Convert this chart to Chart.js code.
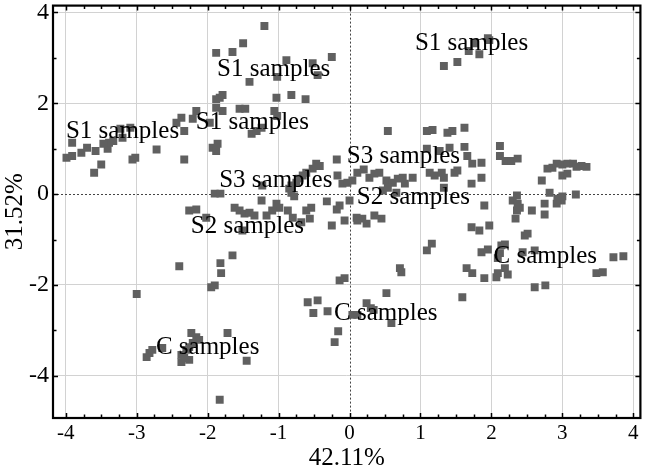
<!DOCTYPE html>
<html>
<head>
<meta charset="utf-8">
<script src="https://cdn.jsdelivr.net/npm/chart.js@4"></script>
<style>
  html, body { margin: 0; padding: 0; background: #fff; }
  #wrap { width: 646px; height: 473px; }
</style>
</head>
<body>
<div id="wrap"><canvas id="pcaChart" width="646" height="473"></canvas></div>
<script>
// score values, grouped by region [PC1, PC2]
const s1Left = [
  [-3.99, 0.80], [-3.91, 0.84], [-3.78, 0.91], [-3.70, 1.02], [-3.58, 0.95], [-3.60, 0.47],
  [-3.50, 0.65], [-3.41, 1.00], [-3.39, 1.13], [-3.47, 1.11], [-3.91, 1.13], [-3.33, 1.17],
  [-3.23, 1.44], [-3.09, 1.46], [-3.20, 1.24], [-3.06, 0.76], [-3.02, 0.80], [-2.72, 0.98],
  [-2.44, 1.57], [-2.37, 1.68], [-2.33, 1.39], [-2.33, 0.76], [-2.21, 1.66], [-2.16, 1.83],
  [-1.93, 1.02], [-1.86, 1.11], [-1.88, 0.95], [-1.97, 1.57], [-1.88, 2.09], [-1.88, 1.90]
];
const s1Top = [
  [-1.20, 3.70], [-1.50, 3.32], [-1.65, 3.13], [-1.88, 3.11], [-0.89, 2.95], [-0.52, 2.88],
  [-0.25, 3.02], [-0.45, 2.62], [-1.02, 2.58], [-1.41, 2.47], [-1.03, 2.12], [-0.82, 2.18],
  [-0.62, 2.09], [-1.83, 2.12], [-1.79, 2.18], [-1.79, 1.83], [-1.55, 1.88], [-1.47, 1.88],
  [-1.06, 1.83], [-1.02, 1.72], [-1.38, 1.33], [-1.31, 1.39], [-1.24, 1.46]
];
const s1Right = [
  [1.33, 2.82], [1.52, 2.91], [1.68, 3.15], [1.83, 3.08], [1.95, 3.43], [1.97, 3.39], [1.76, 3.32]
];
const s3Band = [
  [0.54, 1.39], [1.09, 1.39], [1.17, 1.41], [1.38, 1.35], [1.45, 1.39], [1.62, 1.46],
  [1.09, 1.00], [1.27, 0.95], [1.41, 1.02], [1.62, 1.04], [1.66, 0.84], [1.73, 0.67],
  [1.86, 0.69], [2.12, 1.06], [2.12, 0.84], [2.20, 0.73], [2.28, 0.73], [2.37, 0.78],
  [-0.18, 0.76], [-0.47, 0.67], [-0.42, 0.62], [-0.52, 0.56], [-0.61, 0.47], [-0.66, 0.41],
  [-0.71, 0.34], [-0.75, 0.25], [-0.82, 0.19], [-0.85, 0.12], [-0.17, 0.41], [-0.10, 0.23],
  [-0.03, 0.25], [0.04, 0.30], [0.11, 0.47], [0.20, 0.54], [0.28, 0.36], [0.35, 0.45],
  [0.42, 0.47], [0.52, 0.30], [0.61, 0.25], [0.68, 0.34], [0.75, 0.36], [0.78, 0.23],
  [0.89, 0.36], [1.13, 0.47], [1.20, 0.41], [1.30, 0.47], [1.33, 0.36], [1.48, 0.47],
  [1.52, 0.52], [1.33, 0.14], [1.72, 0.23], [1.86, 0.36], [1.90, -0.25], [0.47, 0.08],
  [0.54, 0.14], [0.66, 0.03], [-1.23, 0.19], [-1.90, 0.01], [-1.82, 0.01]
];
const s2Band = [
  [-1.24, -0.14], [-1.03, -0.21], [-0.99, -0.30], [-0.82, 0.03], [-0.78, -0.05], [-0.61, -0.36],
  [-0.54, -0.30], [-0.32, -0.16], [-0.18, -0.34], [-0.14, -0.25], [0.00, -0.14], [0.10, -0.52],
  [0.11, -0.58], [0.18, -0.54], [0.24, -0.65], [0.35, -0.47], [0.45, -0.54], [-0.25, -0.69],
  [-0.07, -0.58], [-1.62, -0.30], [-1.55, -0.36], [-1.48, -0.43], [-1.41, -0.41], [-1.34, -0.47],
  [-1.17, -0.47], [-1.09, -0.36], [-0.87, -0.36], [-0.80, -0.52], [-0.68, -0.62], [-0.56, -0.54],
  [-1.51, -0.80], [-2.26, -0.36], [-2.16, -0.34], [-2.02, -0.52]
];
const rightGroup = [
  [2.36, -0.03], [2.30, -0.14], [2.37, -0.21], [2.40, -0.30], [2.36, -0.36], [2.34, -0.54],
  [2.57, -0.36], [2.47, -0.91], [2.51, -0.87], [2.71, 0.30], [2.75, -0.21], [2.75, -0.45],
  [2.82, 0.03], [2.79, 0.56], [2.86, 0.58], [2.92, 0.67], [3.00, 0.65], [3.07, 0.67],
  [3.15, 0.67], [3.20, 0.60], [3.27, 0.62], [3.34, 0.60], [3.00, 0.41], [3.07, 0.45],
  [2.93, -0.10], [2.99, -0.14], [3.00, -0.05], [2.92, -0.21], [3.19, -0.01]
];
const cRight = [
  [1.72, -0.73], [1.83, -0.80], [1.97, -0.69], [1.09, -1.24], [1.16, -1.09], [1.86, -1.28],
  [1.95, -1.22], [2.14, -1.13], [2.19, -1.11], [2.12, -1.30], [2.09, -1.41], [2.44, -1.28],
  [2.61, -1.24], [1.65, -1.63], [1.73, -1.74], [1.90, -1.85], [2.09, -1.74], [2.07, -1.83],
  [2.23, -1.77], [2.19, -1.63], [2.61, -2.05], [2.76, -2.01], [3.48, -1.74], [3.57, -1.72],
  [3.72, -1.39], [3.86, -1.37], [1.59, -2.27], [0.71, -1.63], [0.73, -1.72], [0.52, -2.18]
];
const cMiddle = [
  [-0.59, -2.38], [-0.45, -2.34], [-0.51, -2.62], [-0.31, -2.58], [-0.16, -3.02], [-0.21, -3.26],
  [0.04, -2.66], [0.11, -2.66], [0.24, -2.40], [0.30, -2.51], [0.34, -2.55], [0.59, -2.84],
  [-0.14, -1.90], [-0.07, -1.85]
];
const cLeft = [
  [-1.65, -1.35], [-1.82, -1.52], [-1.81, -1.74], [-1.95, -2.05], [-1.90, -2.01], [-2.40, -1.59],
  [-3.00, -2.20], [-2.86, -3.59], [-2.82, -3.50], [-2.78, -3.43], [-2.64, -3.39], [-2.37, -3.70],
  [-2.33, -3.61], [-2.26, -3.65], [-2.37, -3.54], [-2.23, -3.06], [-2.16, -3.15], [-2.12, -3.21],
  [-2.21, -3.28], [-2.26, -3.37], [-2.30, -3.43], [-1.72, -3.06], [-1.45, -3.67], [-1.83, -4.53]
];

// group labels written on the plot
const groupNames = ['S1 samples', 'S1 samples', 'S1 samples', 'S1 samples', 'S3 samples', 'S3 samples',
                    'S2 samples', 'S2 samples', 'C samples', 'C samples', 'C samples'];
const groupX = [-1.07, 1.72, -3.20, -1.37, 0.76, -1.04, 0.90, -1.44, 2.76, 0.51, -2.00];
const groupY = [2.75, 3.32, 1.37, 1.57, 0.82, 0.30, -0.08, -0.71, -1.37, -2.62, -3.37];

const xTicks = [-4, -3, -2, -1, 0, 1, 2, 3, 4];
const yTicks = [-4, -2, 0, 2, 4];
const xTitle = '42.11%';
const yTitle = '31.52%';

const allPoints = [].concat(s1Left, s1Top, s1Right, s3Band, s2Band, rightGroup, cRight, cMiddle, cLeft)
  .map(p => ({ x: p[0], y: p[1] }));

const serif = '"Liberation Serif", "Times New Roman", serif';

// dotted zero lines, group labels, frame and inward ticks
const decorations = {
  id: 'decorations',
  beforeDatasetsDraw(chart) {
    const { ctx, chartArea: a, scales: { x, y } } = chart;
    ctx.save();
    ctx.strokeStyle = '#444';
    ctx.lineWidth = 1;
    ctx.setLineDash([2, 2]);
    const x0 = Math.round(x.getPixelForValue(0)) + 0.5;
    const y0 = Math.round(y.getPixelForValue(0)) + 0.5;
    ctx.beginPath();
    ctx.moveTo(x0, a.top); ctx.lineTo(x0, a.bottom);
    ctx.moveTo(a.left, y0); ctx.lineTo(a.right, y0);
    ctx.stroke();
    ctx.restore();
  },
  afterDatasetsDraw(chart) {
    const { ctx, scales: { x, y } } = chart;
    ctx.save();
    ctx.fillStyle = '#000';
    ctx.font = '25px ' + serif;
    ctx.textAlign = 'center';
    ctx.textBaseline = 'middle';
    groupNames.forEach((t, i) => {
      ctx.fillText(t, x.getPixelForValue(groupX[i]), y.getPixelForValue(groupY[i]));
    });
    ctx.restore();
  },
  afterDraw(chart) {
    const { ctx, chartArea: a, scales: { x, y } } = chart;
    ctx.save();
    ctx.strokeStyle = '#000';
    ctx.lineWidth = 1.5;
    ctx.beginPath();
    for (let v = -4; v <= 4.001; v += 0.25) {
      const px = Math.round(x.getPixelForValue(v)) + 0.5;
      const len = Number.isInteger(v) ? 5 : 3.5;
      ctx.moveTo(px, a.bottom); ctx.lineTo(px, a.bottom - len);
      ctx.moveTo(px, a.top); ctx.lineTo(px, a.top + len);
    }
    for (let v = -4; v <= 4; v += 1) {
      const py = Math.round(y.getPixelForValue(v)) + 0.5;
      const len = v % 2 === 0 ? 5 : 3.5;
      ctx.moveTo(a.left, py); ctx.lineTo(a.left + len, py);
      ctx.moveTo(a.right, py); ctx.lineTo(a.right - len, py);
    }
    ctx.stroke();
    ctx.lineWidth = 2.2;
    ctx.strokeRect(a.left, a.top, a.right - a.left, a.bottom - a.top);
    ctx.restore();
  }
};

const ctx = document.getElementById('pcaChart').getContext('2d');
const pcaChart = new Chart(ctx, {
  type: 'scatter',
  data: {
    datasets: [{
      data: allPoints,
      pointStyle: 'rect',
      pointRadius: 5.6,
      pointHoverRadius: 5.6,
      pointBackgroundColor: '#606060',
      pointBorderColor: '#606060',
      pointBorderWidth: 0
    }]
  },
  options: {
    responsive: false,
    animation: false,
    layout: { padding: { top: 4, right: 5, left: 0, bottom: 0 } },
    plugins: {
      legend: { display: false },
      tooltip: { enabled: false }
    },
    scales: {
      x: {
        type: 'linear',
        min: -4.18,
        max: 4.1,
        afterBuildTicks: s => { s.ticks = xTicks.map(v => ({ value: v })); },
        afterFit: s => { s.height = 55; s.paddingLeft = 0; s.paddingRight = 0; },
        grid: {
          color: c => (c.tick && c.tick.value === 0) ? 'rgba(0,0,0,0)' : '#d2d2d2',
          lineWidth: 1,
          drawTicks: false
        },
        border: { display: false },
        ticks: {
          padding: 3,
          color: '#000',
          font: { family: serif, size: 21 },
          maxRotation: 0
        },
        title: {
          display: true,
          text: xTitle,
          color: '#000',
          font: { family: serif, size: 25 },
          padding: 0
        }
      },
      y: {
        type: 'linear',
        min: -4.93,
        max: 4.15,
        afterBuildTicks: s => { s.ticks = yTicks.map(v => ({ value: v })); },
        afterFit: s => { s.width = 53; s.paddingTop = 0; s.paddingBottom = 0; },
        grid: {
          color: c => (c.tick && c.tick.value === 0) ? 'rgba(0,0,0,0)' : '#d2d2d2',
          lineWidth: 1,
          drawTicks: false
        },
        border: { display: false },
        ticks: {
          padding: 4,
          color: '#000',
          font: { family: serif, size: 24 }
        },
        title: {
          display: true,
          text: yTitle,
          color: '#000',
          font: { family: serif, size: 25 },
          padding: 0
        }
      }
    }
  },
  plugins: [decorations]
});
</script>
</body>
</html>
